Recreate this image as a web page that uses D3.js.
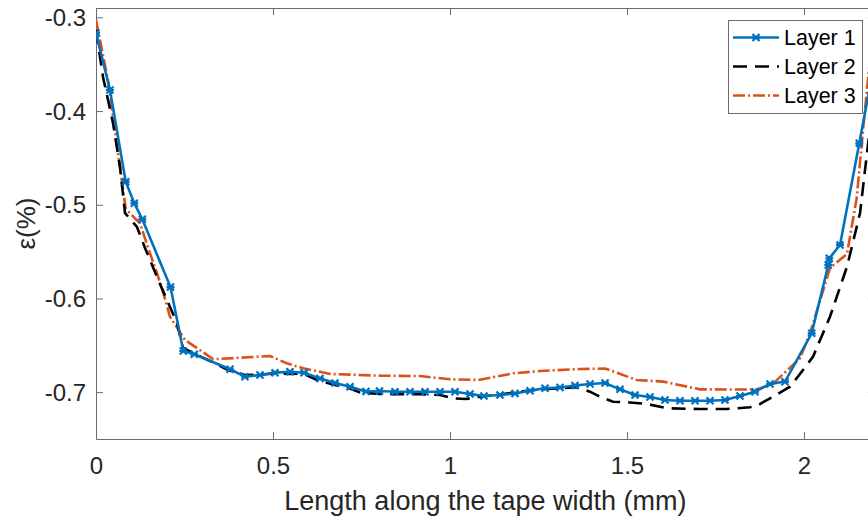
<!DOCTYPE html>
<html>
<head>
<meta charset="utf-8">
<script src="https://cdn.jsdelivr.net/npm/d3@7"></script>
<style>
  body { margin: 0; background: #fff; }
  svg { display: block; font-family: "Liberation Sans", Arial, Helvetica, sans-serif; }
</style>
</head>
<body>
<svg id="chart" width="868" height="520"></svg>
<script>
// values (x in mm, strain in %)
let layer1X = [0, 0.0395, 0.0839, 0.1082, 0.1308, 0.2105, 0.2466, 0.2777, 0.3785, 0.4209,
  0.4633, 0.5056, 0.548, 0.5876, 0.6328, 0.6751, 0.7175, 0.7627, 0.8008, 0.8446,
  0.887, 0.9294, 0.9718, 1.0141, 1.0565, 1.096, 1.1412, 1.1836, 1.226, 1.2684,
  1.3107, 1.3531, 1.3955, 1.4379, 1.4802, 1.5226, 1.565, 1.6073, 1.6497, 1.6921,
  1.7345, 1.7768, 1.8192, 1.8616, 1.904, 1.9463, 2.0218, 2.0686, 2.0715, 2.1017,
  2.1562, 2.198];
let layer1Y = [-0.3167, -0.3775, -0.4754, -0.4984, -0.5155, -0.5878, -0.6561, -0.6596, -0.6756, -0.6835,
  -0.6817, -0.6792, -0.6782, -0.6792, -0.6854, -0.6902, -0.6942, -0.6993, -0.6988, -0.6995,
  -0.6995, -0.6995, -0.6995, -0.6995, -0.702, -0.7041, -0.703, -0.7014, -0.6984, -0.6959,
  -0.695, -0.6929, -0.6913, -0.6902, -0.697, -0.703, -0.7052, -0.7084, -0.7091, -0.7091,
  -0.7091, -0.7084, -0.7041, -0.6995, -0.6913, -0.6888, -0.6372, -0.5643, -0.5571, -0.5429,
  -0.4344, -0.35];

let layer2X = [0, 0.0198, 0.048, 0.0678, 0.0819, 0.1158, 0.1384, 0.1808, 0.2288, 0.2458,
  0.274, 0.322, 0.3729, 0.4209, 0.4633, 0.5056, 0.548, 0.5847, 0.6243, 0.6751,
  0.7175, 0.7458, 0.8023, 0.8588, 0.9153, 0.9718, 1.0085, 1.0452, 1.0847, 1.1412,
  1.1977, 1.2542, 1.3107, 1.3588, 1.3955, 1.4237, 1.4605, 1.5085, 1.5565, 1.613,
  1.7062, 1.7825, 1.8475, 1.8757, 1.9124, 1.9605, 1.9972, 2.0254, 2.0734, 2.1215,
  2.1582, 2.178, 2.198];
let layer2Y = [-0.3135, -0.3636, -0.4127, -0.4597, -0.5088, -0.5237, -0.5461, -0.5846, -0.6262, -0.6529,
  -0.6582, -0.6667, -0.6764, -0.6817, -0.6812, -0.6801, -0.6806, -0.6801, -0.687, -0.6924,
  -0.6961, -0.7004, -0.702, -0.7023, -0.7023, -0.703, -0.7066, -0.7073, -0.7049, -0.7025,
  -0.6995, -0.697, -0.6959, -0.6948, -0.6995, -0.7049, -0.7102, -0.711, -0.7126, -0.7172,
  -0.718, -0.718, -0.7162, -0.7126, -0.7049, -0.6942, -0.6764, -0.6622, -0.6195, -0.5661,
  -0.5091, -0.4447, -0.38];

let layer3X = [0, 0.0347, 0.0585, 0.0839, 0.1243, 0.1477, 0.1856, 0.209, 0.2514, 0.3314,
  0.4915, 0.5387, 0.5856, 0.661, 0.8023, 0.9153, 1.0, 1.0799, 1.1788, 1.2542,
  1.3672, 1.4379, 1.4576, 1.5274, 1.6025, 1.7062, 1.8664, 1.9133, 1.9887, 2.0169,
  2.0734, 2.1215, 2.1489, 2.1675, 2.198];
let layer3Y = [-0.3028, -0.3687, -0.4344, -0.5045, -0.5198, -0.5465, -0.5878, -0.6195, -0.6443, -0.6649,
  -0.6614, -0.6692, -0.6745, -0.6806, -0.6824, -0.6828, -0.6863, -0.687, -0.6799, -0.6774,
  -0.6753, -0.6748, -0.6774, -0.687, -0.6888, -0.697, -0.6972, -0.6906, -0.6639, -0.6372,
  -0.5675, -0.5525, -0.4928, -0.417, -0.30];

let xTicks = [0, 0.5, 1, 1.5, 2];
let yTicks = [-0.3, -0.4, -0.5, -0.6, -0.7];
let seriesNames = ["Layer 1", "Layer 2", "Layer 3"];

let svg = d3.select("#chart");
let margin = {top: 8, left: 96, bottom: 439, right: 874.8};

let x = d3.scaleLinear().domain([0, 2.2]).range([margin.left, margin.right]);
let y = d3.scaleLinear().domain([-0.75, -0.29]).range([margin.bottom, margin.top]);

let axisColor = "#6b6b6b", textColor = "#262626";

// clip to plot box
svg.append("clipPath").attr("id", "plotclip")
  .append("rect")
  .attr("x", x(0)).attr("y", y(-0.29))
  .attr("width", x(2.2) - x(0)).attr("height", y(-0.75) - y(-0.29));

// axes (box on, ticks inward)
let gx = svg.append("g")
  .attr("transform", `translate(0,${margin.bottom})`)
  .call(d3.axisBottom(x).tickValues(xTicks).tickSizeInner(-7).tickSizeOuter(0).tickPadding(18)
    .tickFormat(d3.format("")));
let gxTop = svg.append("g")
  .attr("transform", `translate(0,${margin.top})`)
  .call(d3.axisTop(x).tickValues(xTicks).tickSizeInner(-7).tickSizeOuter(0).tickFormat(""));
let gy = svg.append("g")
  .attr("transform", `translate(${margin.left},0)`)
  .call(d3.axisLeft(y).tickValues(yTicks).tickSizeInner(-7).tickSizeOuter(0).tickPadding(10)
    .tickFormat(d3.format("")));
let gyRight = svg.append("g")
  .attr("transform", `translate(${margin.right},0)`)
  .call(d3.axisRight(y).tickValues(yTicks).tickSizeInner(-7).tickSizeOuter(0).tickFormat(""));

[gx, gxTop, gy, gyRight].forEach(g => {
  g.select(".domain").attr("stroke", axisColor).attr("stroke-width", 1);
  g.selectAll(".tick line").attr("stroke", axisColor).attr("stroke-width", 1);
  g.selectAll(".tick text").attr("fill", textColor).attr("font-size", 24)
    .attr("font-family", "Liberation Sans, Arial, sans-serif");
});
gy.selectAll(".tick text").attr("dy", "0.34em").text(d => d3.format(".1f")(d).replace("−", "-"));
gx.selectAll(".tick text").attr("dy", "0.71em");

// axis labels
svg.append("text")
  .attr("x", (margin.left + margin.right) / 2)
  .attr("y", 510)
  .attr("text-anchor", "middle")
  .attr("font-size", 27)
  .attr("fill", textColor)
  .text("Length along the tape width (mm)");

svg.append("text")
  .attr("transform", `translate(35,${(margin.top + margin.bottom) / 2}) rotate(-90)`)
  .attr("text-anchor", "middle")
  .attr("font-size", 26)
  .attr("fill", textColor)
  .text("ε(%)");

// series
let line = d3.line().x(d => x(d[0])).y(d => y(d[1]));
let plot = svg.append("g").attr("clip-path", "url(#plotclip)");

let styles = [
  {color: "#0072BD", dash: null},
  {color: "#000000", dash: "14,8"},
  {color: "#D95319", dash: "12,3,2,3"}
];
let series = [
  d3.zip(layer1X, layer1Y),
  d3.zip(layer2X, layer2Y),
  d3.zip(layer3X, layer3Y)
];

let xMark = "M-3.5,-3.5L3.5,3.5M-3.5,3.5L3.5,-3.5M-4,0L4,0";

// draw order: layer 3 under, then layer 2, then layer 1
[2, 1, 0].forEach(i => {
  plot.append("path")
    .datum(series[i])
    .attr("d", line)
    .attr("fill", "none")
    .attr("stroke", styles[i].color)
    .attr("stroke-width", 2.6)
    .attr("stroke-dasharray", styles[i].dash);
});

plot.append("g").selectAll("path")
  .data(series[0])
  .join("path")
  .attr("transform", d => `translate(${x(d[0])},${y(d[1])})`)
  .attr("d", xMark)
  .attr("stroke", styles[0].color)
  .attr("stroke-width", 2.2)
  .attr("fill", "none");

// legend
let legend = svg.append("g");
legend.append("rect")
  .attr("x", 728.5).attr("y", 20.5)
  .attr("width", 134).attr("height", 93)
  .attr("fill", "#fff")
  .attr("stroke", axisColor)
  .attr("stroke-width", 1);

let rowY = [37.5, 66.5, 95.5];
seriesNames.forEach((name, i) => {
  legend.append("line")
    .attr("x1", 733).attr("x2", 779)
    .attr("y1", rowY[i]).attr("y2", rowY[i])
    .attr("stroke", styles[i].color)
    .attr("stroke-width", 2.6)
    .attr("stroke-dasharray", styles[i].dash);
  if (i === 0) {
    legend.append("path")
      .attr("transform", `translate(756,${rowY[i]})`)
      .attr("d", xMark)
      .attr("stroke", styles[0].color)
      .attr("stroke-width", 2.2)
      .attr("fill", "none");
  }
  legend.append("text")
    .attr("x", 784)
    .attr("y", rowY[i] + 7.5)
    .attr("font-size", 21.5)
    .attr("fill", "#000")
    .text(name);
});
</script>
</body>
</html>
